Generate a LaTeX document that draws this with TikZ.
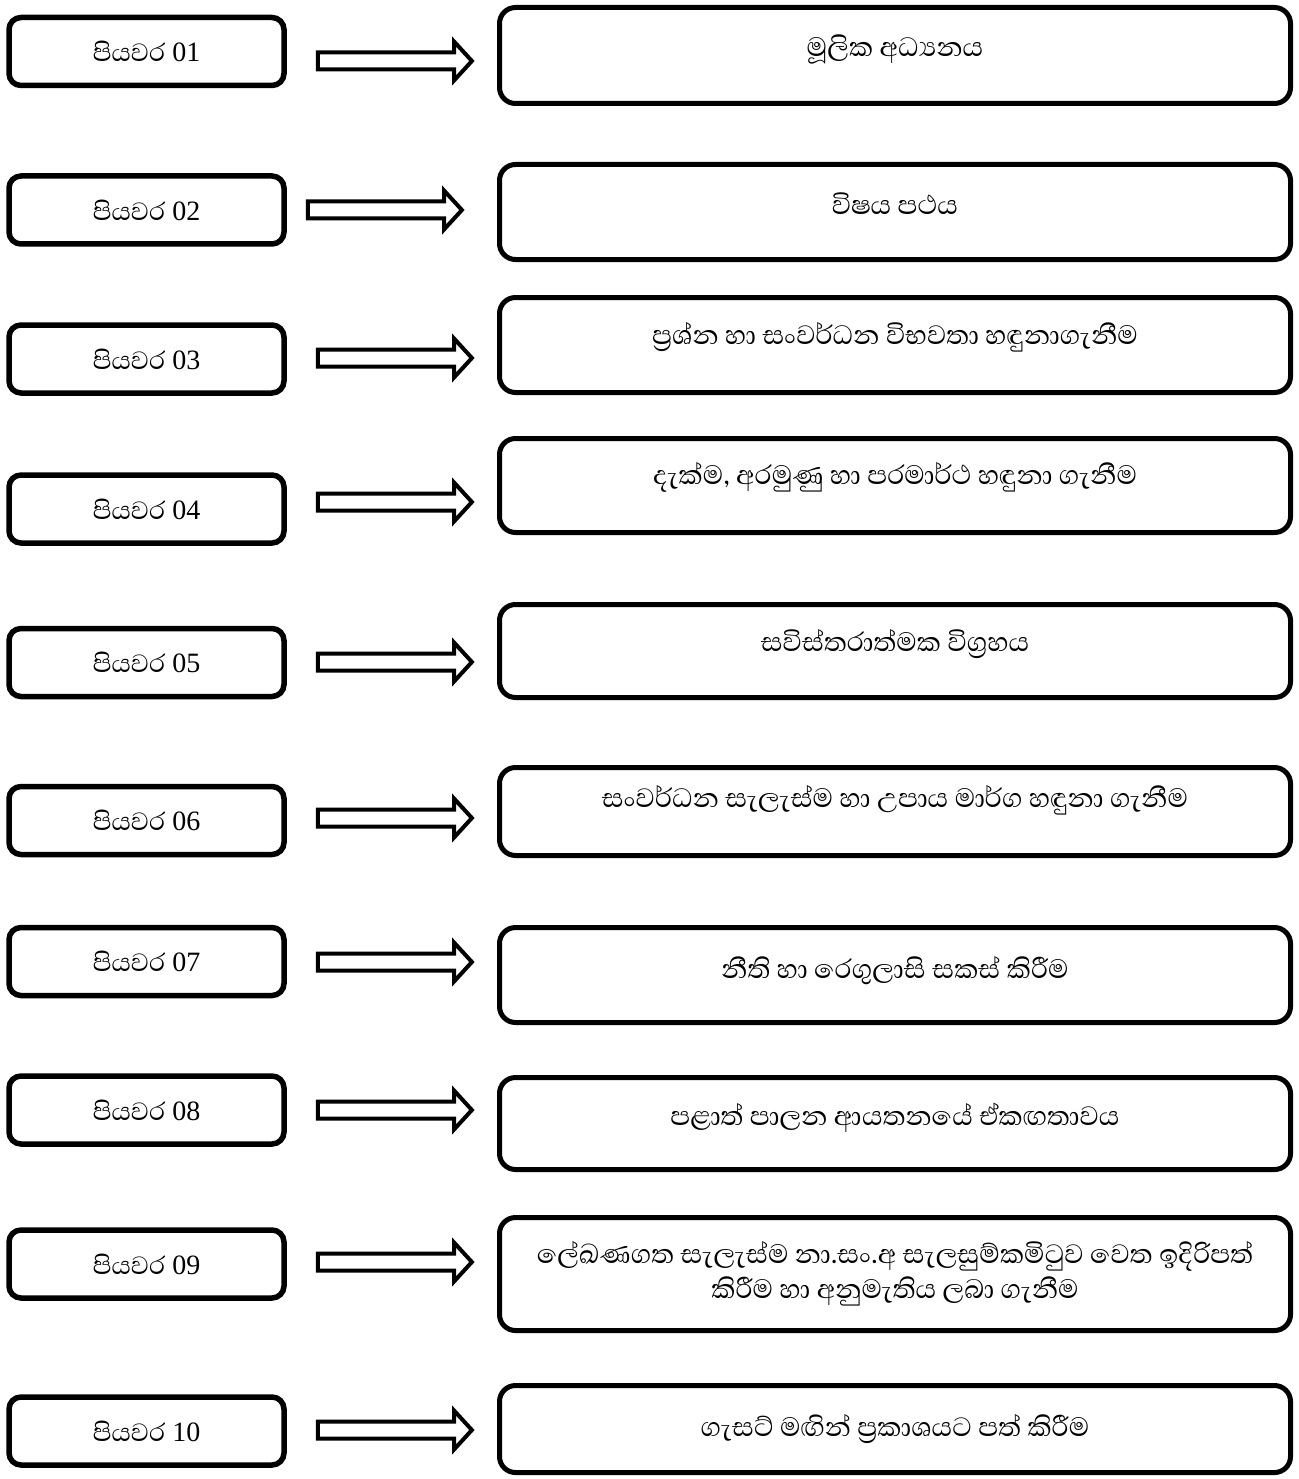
\documentclass[tikz,border=0pt]{standalone}
\usepackage{fontspec}
\setmainfont{Liberation Serif}
\newfontfamily\sinhala[Script=Sinhala]{Abhaya Libre}
\usetikzlibrary{shapes.arrows}

\begin{document}
\begin{tikzpicture}[x=1pt,y=-1pt,
    stepbox/.style={draw,line width=5.5pt,rounded corners=12pt,minimum width=275pt,
      minimum height=68pt,font=\fontsize{28}{32}\selectfont},
    taskbox/.style={draw,line width=5pt,rounded corners=16pt,minimum width=791pt,
      align=center,font=\sinhala\fontsize{34}{35}\selectfont},
    blockarrow/.style={draw,line width=4pt,single arrow,minimum height=154pt,
      inner sep=6.5pt,single arrow head extend=11pt,single arrow tip angle=95}]
    \useasboundingbox (0,0) rectangle (1298,1479);
    \def\step{{\sinhala\fontsize{32}{32}\selectfont පියවර}}

    % left column
    \node[stepbox] (s1) at (146.5,51.5) {\step{} 01};
    \node[stepbox] (s2) at (146.5,210) {\step{} 02};
    \node[stepbox] (s3) at (146.5,359) {\step{} 03};
    \node[stepbox] (s4) at (146.5,509) {\step{} 04};
    \node[stepbox] (s5) at (146.5,662.5) {\step{} 05};
    \node[stepbox] (s6) at (146.5,820.5) {\step{} 06};
    \node[stepbox] (s7) at (146.5,961.5) {\step{} 07};
    \node[stepbox] (s8) at (146.5,1110) {\step{} 08};
    \node[stepbox] (s9) at (146.5,1264) {\step{} 09};
    \node[stepbox] (s10) at (146.5,1431) {\step{} 10};

    % right column
    \node[taskbox,minimum height=96pt] (t1) at (895,55.5) {\raisebox{19.5pt}{මූලික අධ්^^^^200dයනය}};
    \node[taskbox,minimum height=95pt] (t2) at (895,212) {\raisebox{16pt}{විෂය පථය}};
    \node[taskbox,minimum height=95pt] (t3) at (895,345) {\raisebox{23pt}{ප්^^^^200dරශ්න හා සංවර්ධන විභවතා හඳුනාගැනීම}};
    \node[taskbox,minimum height=94pt] (t4) at (895,485.5) {\raisebox{24.5pt}{දැක්ම, අරමුණු හා පරමාර්ථ හඳුනා ගැනීම}};
    \node[taskbox,minimum height=93pt] (t5) at (895,651) {\raisebox{21pt}{සවිස්තරාත්මක විග්^^^^200dරහය}};
    \node[taskbox,minimum height=88pt] (t6) at (895,811.5) {\raisebox{30.5pt}{සංවර්ධන සැලැස්ම හා උපාය මාර්ග හඳුනා ගැනීම}};
    \node[taskbox,minimum height=95pt] (t7) at (895,975) {\raisebox{15pt}{නීති හා රෙගුලාසි සකස් කිරීම}};
    \node[taskbox,minimum height=92pt] (t8) at (895,1123.5) {\raisebox{19.5pt}{පළාත් පාලන ආයතනයේ ඒකඟතාවය}};
    \node[taskbox,minimum height=113pt] (t9) at (895,1274) {ලේඛණගත සැලැස්ම නා.සං.අ සැලසුම්කමිටුව වෙත ඉදිරිපත්\\කිරීම හා අනුමැතිය ලබා ගැනීම};
    \node[taskbox,minimum height=87pt] (t10) at (895,1429) {\raisebox{7pt}{ගැසට් මඟින් ප්^^^^200dරකාශයට පත් කිරීම}};

    % arrows between the columns
    \node[blockarrow] (a1) at (391,61) {};
    \node[blockarrow] (a2) at (381,210) {};
    \node[blockarrow] (a3) at (391,358) {};
    \node[blockarrow] (a4) at (391,502) {};
    \node[blockarrow] (a5) at (391,662) {};
    \node[blockarrow] (a6) at (391,818) {};
    \node[blockarrow] (a7) at (391,962) {};
    \node[blockarrow] (a8) at (391,1110) {};
    \node[blockarrow] (a9) at (391,1262) {};
    \node[blockarrow] (a10) at (391,1430) {};
\end{tikzpicture}
\end{document}
